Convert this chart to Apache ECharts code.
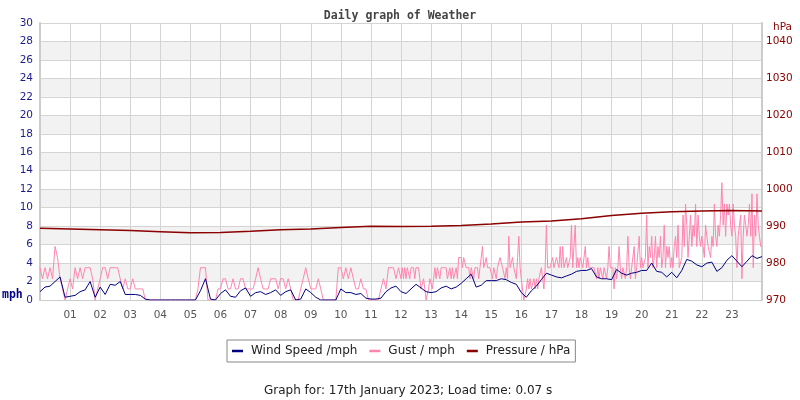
<!DOCTYPE html>
<html>
<head>
<meta charset="utf-8">
<script src="https://cdn.jsdelivr.net/npm/echarts@6/dist/echarts.min.js"></script>
<style>
  html, body { margin: 0; padding: 0; background: #fff; }
  #chart { width: 800px; height: 400px; }
</style>
</head>
<body>
<div id="chart"></div>
<script>
// wind speed, one reading every 10 minutes (mph)
const windSpeed = [
  0.9, 1.4, 1.5, 2.0, 2.5, 0.3,
  0.4, 0.5, 0.9, 1.1, 2.0, 0.3,
  1.4, 0.6, 1.7, 1.6, 2.0, 0.6,
  0.6, 0.6, 0.5, 0.1, 0, 0,
  0, 0, 0, 0, 0, 0,
  0, 0, 1.0, 2.3, 0.1, 0,
  0.7, 1.1, 0.4, 0.3, 1.0, 1.3,
  0.4, 0.8, 0.9, 0.6, 0.8, 1.1,
  0.5, 0.9, 1.1, 0, 0.1, 1.2,
  0.8, 0.3, 0, 0, 0, 0,
  1.2, 0.8, 0.8, 0.6, 0.7, 0.2,
  0.1, 0.1, 0.2, 0.9, 1.3, 1.5,
  0.9, 0.7, 1.2, 1.7, 1.3, 0.9,
  0.8, 0.9, 1.3, 1.5, 1.2, 1.4,
  1.8, 2.3, 2.8, 1.4, 1.6, 2.1,
  2.1, 2.1, 2.3, 2.2, 1.9, 1.7,
  0.8, 0.3, 1.0, 1.5, 2.2, 2.9,
  2.7, 2.5, 2.4, 2.6, 2.8, 3.1,
  3.2, 3.2, 3.4, 2.5, 2.3, 2.3,
  2.2, 3.3, 2.9, 2.7, 2.9, 3.0,
  3.2, 3.2, 4.0, 3.1, 3.0, 2.5,
  3.0, 2.4, 3.2, 4.4, 4.2, 3.8,
  3.6, 4.0, 4.1, 3.1, 3.5, 4.3,
  4.8, 4.2, 3.6, 4.2, 4.8, 4.5,
  4.7
];

// gust 00:00-11:55, one reading every 5 minutes (mph)
const gustAm = [
  3.5, 2.3, 3.5, 2.3, 3.5, 2.3, 5.8, 4.6, 2.3, 1.2, 0, 1.2,
  2.3, 1.2, 3.5, 2.3, 3.5, 2.3, 3.5, 3.5, 3.5, 2.3, 0, 1.2,
  2.3, 3.5, 3.5, 2.3, 3.5, 3.5, 3.5, 3.5, 2.3, 1.2, 2.3, 1.2,
  1.2, 2.3, 1.2, 1.2, 1.2, 1.2, 0, 0, 0, 0, 0, 0,
  0, 0, 0, 0, 0, 0, 0, 0, 0, 0, 0, 0,
  0, 0, 0, 1.2, 3.5, 3.5, 3.5, 0, 0, 0, 0, 1.2,
  1.2, 2.3, 2.3, 1.2, 1.2, 2.3, 1.2, 1.2, 2.3, 2.3, 1.2, 1.2,
  1.2, 1.2, 2.3, 3.5, 2.3, 1.2, 1.2, 1.2, 2.3, 2.3, 2.3, 1.2,
  2.3, 2.3, 1.2, 2.3, 1.2, 0, 0, 0, 1.2, 2.3, 3.5, 2.3,
  1.2, 1.2, 1.2, 2.3, 1.2, 0, 0, 0, 0, 0, 0, 3.5,
  3.5, 2.3, 3.5, 2.3, 3.5, 2.3, 1.2, 1.2, 2.3, 1.2, 1.2, 0,
  0, 0, 0, 0, 1.2, 2.3, 1.2, 3.5, 3.5, 3.5, 2.3, 3.5
];

// gust 12:00-24:00, logged more often: one reading every 2.5 minutes (mph)
const gustPm = [
  2.3, 3.5, 2.3, 3.5, 2.3, 3.5, 3.5, 2.3, 3.5, 3.5, 3.5, 2.3, 3.5, 3.5, 3.5, 2.3, 1.2, 1.2, 2.3, 1.2, 0, 0, 1.2, 2.3,
  2.3, 1.2, 2.3, 3.5, 2.3, 3.5, 3.5, 2.3, 3.5, 3.5, 3.5, 3.5, 3.5, 2.3, 2.3, 3.5, 2.3, 3.5, 2.3, 2.3, 3.5, 2.3, 4.6, 4.6,
  4.6, 3.5, 4.6, 4.6, 3.5, 3.5, 3.5, 2.3, 3.5, 3.5, 2.3, 3.5, 3.5, 3.5, 2.3, 3.5, 3.5, 5.8, 3.5, 3.5, 4.6, 3.5, 3.5, 3.5,
  3.5, 2.3, 3.5, 3.5, 2.3, 3.5, 3.5, 4.6, 4.6, 3.5, 3.5, 2.3, 3.5, 2.3, 6.9, 3.5, 3.5, 4.6, 3.5, 3.5, 2.3, 4.6, 6.9, 3.5,
  2.3, 2.3, 0, 0, 1.2, 2.3, 1.2, 2.3, 1.2, 1.2, 2.3, 1.2, 2.3, 1.2, 2.3, 2.3, 3.5, 3.5, 1.2, 3.5, 8.1, 3.5, 3.5, 3.5,
  3.5, 4.6, 3.5, 3.5, 4.6, 4.6, 3.5, 5.8, 3.5, 5.8, 3.5, 3.5, 4.6, 3.5, 3.5, 4.6, 8.1, 3.5, 3.5, 8.1, 3.5, 4.6, 3.5, 4.6,
  4.6, 3.5, 4.6, 5.8, 3.5, 4.6, 3.5, 3.5, 3.5, 3.5, 3.5, 3.5, 2.3, 3.5, 2.3, 3.5, 3.5, 2.3, 3.5, 3.5, 2.3, 3.5, 5.8, 3.5,
  3.5, 3.5, 1.2, 3.5, 2.3, 3.5, 5.8, 3.5, 2.3, 3.5, 3.5, 2.3, 3.5, 6.9, 3.5, 2.3, 3.5, 3.5, 5.8, 2.3, 3.5, 3.5, 6.9, 3.5,
  4.6, 3.5, 3.5, 4.6, 9.2, 3.5, 5.8, 4.6, 6.9, 3.5, 4.6, 6.9, 3.5, 5.8, 4.6, 6.9, 3.5, 4.6, 8.1, 3.5, 5.8, 4.6, 5.8, 3.5,
  4.6, 3.5, 5.8, 6.9, 4.6, 8.1, 3.5, 3.5, 4.6, 9.2, 5.8, 10.4, 8.1, 4.6, 6.9, 9.2, 5.8, 8.1, 6.9, 10.4, 5.8, 9.2, 6.9, 5.8,
  6.9, 5.8, 4.6, 8.1, 6.9, 5.8, 5.8, 4.6, 6.9, 5.8, 10.4, 6.9, 5.8, 8.1, 6.9, 9.2, 12.7, 8.1, 10.4, 6.9, 10.4, 9.2, 10.4, 8.1,
  6.9, 10.4, 8.1, 6.9, 3.5, 6.9, 8.1, 9.2, 2.3, 6.9, 9.2, 8.1, 6.9, 8.1, 10.4, 6.9, 11.5, 3.5, 9.2, 6.9, 11.5, 8.1, 6.9, 5.8,
  5.8
];

// pressure, hourly (hPa)
const pressure = [
  989.4, 989.2, 989.0, 988.8, 988.5, 988.2, 988.3, 988.6, 989.0, 989.2,
  989.6, 990.0, 989.9, 990.0, 990.2, 990.6, 991.1, 991.4, 992.0, 992.9,
  993.5, 993.9, 994.1, 994.2, 994.1
];

const hourLabels = ["01", "02", "03", "04", "05", "06", "07", "08", "09", "10", "11", "12",
  "13", "14", "15", "16", "17", "18", "19", "20", "21", "22", "23"];

const chart = echarts.init(document.getElementById("chart"));

// readings -> [hour, value]
function toPoints(values, perHour, startHour) {
  return values.map(function (v, i) {
    return [startHour + i / perHour, v];
  });
}

const gustPoints = toPoints(gustAm, 12, 0).concat(toPoints(gustPm, 24, 12));

const gridColor = "#d4d4d4";

const option = {
  animation: false,
  title: [
    {
      text: "Daily graph of Weather",
      left: "center",
      top: 5,
      textStyle: {
        fontFamily: "DejaVu Sans Mono",
        fontWeight: "bold",
        fontSize: 11.5,
        color: "#444",
      },
    },
    {
      text: "Graph for: 17th January 2023; Load time: 0.07 s",
      left: 259,
      top: 380,
      textStyle: {
        fontFamily: "DejaVu Sans",
        fontWeight: "normal",
        fontSize: 12,
        color: "#222",
      },
    },
  ],
  legend: {
    data: ["Wind Speed /mph", "Gust / mph", "Pressure / hPa"],
    left: 227,
    top: 340,
    padding: [5, 5, 5, 5],
    itemGap: 12,
    itemWidth: 11,
    itemHeight: 2.5,
    icon: "rect",
    borderColor: "#888",
    borderWidth: 1,
    textStyle: {
      fontFamily: "DejaVu Sans",
      fontSize: 12,
      color: "#222",
      padding: [0, 0, 0, 3],
    },
  },
  grid: {
    left: 40,
    right: 38,
    top: 23,
    bottom: 100,
  },
  xAxis: {
    type: "value",
    min: 0,
    max: 24,
    interval: 1,
    axisLine: { show: true, lineStyle: { color: "#ccc", width: 1 } },
    axisTick: { show: false },
    axisLabel: {
      margin: 10,
      fontFamily: "DejaVu Sans",
      fontSize: 10.5,
      color: "#555",
      formatter: function (v) {
        return v >= 1 && v <= 23 ? hourLabels[v - 1] : "";
      },
    },
    splitLine: { show: true, lineStyle: { color: gridColor } },
  },
  yAxis: [
    {
      type: "value",
      min: 0,
      max: 30,
      interval: 2,
      axisLine: { show: true, lineStyle: { color: "#ccc", width: 2 } },
      axisTick: { show: false },
      axisLabel: {
        margin: 7,
        fontFamily: "DejaVu Sans",
        fontSize: 10.5,
        color: "#1c1c8c",
      },
      splitLine: { show: true, lineStyle: { color: gridColor } },
      splitArea: { show: true, areaStyle: { color: ["#ffffff", "#f2f2f2"] } },
    },
    {
      type: "value",
      min: 970,
      max: 1045,
      interval: 10,
      position: "right",
      axisLine: { show: true, lineStyle: { color: "#ccc", width: 2 } },
      axisTick: { show: false },
      axisLabel: {
        margin: 4,
        fontFamily: "DejaVu Sans",
        fontSize: 10.5,
        color: "#8b0000",
        formatter: function (v) {
          return v > 1040 ? "" : v;
        },
      },
      splitLine: { show: false },
    },
  ],
  graphic: [
    {
      type: "text",
      left: 2,
      top: 289,
      style: {
        text: "mph",
        font: "bold 11.5px 'DejaVu Sans Mono'",
        fill: "#000080",
      },
    },
    {
      type: "text",
      left: 773,
      top: 22,
      style: {
        text: "hPa",
        font: "10.5px 'DejaVu Sans'",
        fill: "#8b0000",
      },
    },
  ],
  series: [
    {
      name: "Gust / mph",
      type: "line",
      symbol: "none",
      z: 2,
      data: gustPoints,
      lineStyle: { color: "#ff85b0", width: 1 },
      itemStyle: { color: "#ff85b0" },
    },
    {
      name: "Wind Speed /mph",
      type: "line",
      symbol: "none",
      z: 3,
      data: toPoints(windSpeed, 6, 0),
      lineStyle: { color: "#000080", width: 1 },
      itemStyle: { color: "#000080" },
    },
    {
      name: "Pressure / hPa",
      type: "line",
      symbol: "none",
      yAxisIndex: 1,
      z: 4,
      data: toPoints(pressure, 1, 0),
      lineStyle: { color: "#8b0000", width: 1.5 },
      itemStyle: { color: "#8b0000" },
    },
  ],
};

chart.setOption(option);
</script>
</body>
</html>
